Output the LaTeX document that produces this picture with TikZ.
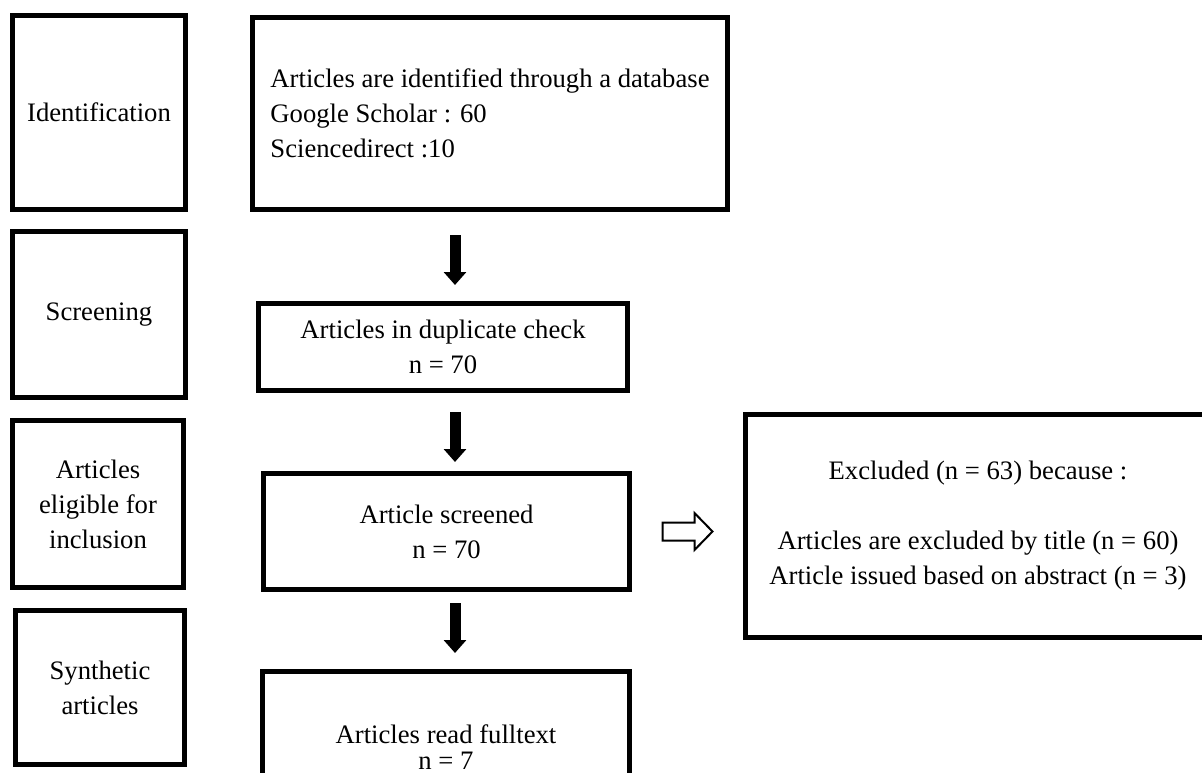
\documentclass[tikz,border=0pt]{standalone}
\usepackage{fontspec}
\setmainfont{Liberation Serif}
\usetikzlibrary{arrows.meta, calc}
\newcommand{\px}{0.45pt}

\begin{document}
\begin{tikzpicture}[x = \px, y = -\px, every node/.style = {rectangle, draw = black, line width = 2.25pt, outer sep = 0pt, inner sep = 0pt, align = center, font = \fontsize{12}{15.75}\selectfont}, box/.style 2 args = {minimum width = #1*\px, minimum height = #2*\px}]
	\useasboundingbox (0, 0) rectangle (1202, 773);
	\clip (0, 0) rectangle (1202, 773);

	\node (ident) at (99, 112.5) [box = {173}{194}] {Identification};
	\node (screen) at (99, 314.5) [box = {173}{166}] {Screening};
	\node (elig) at (98, 504) [box = {171}{167}] {Articles\\ eligible for\\ inclusion};
	\node (synth) at (100, 687.5) [box = {169}{154}] {Synthetic\\ articles};

	\node (db) at (490, 113.5) [box = {475}{192}, align = left] {Articles are identified through a database\\ Google Scholar : 60\\ Sciencedirect :10};
	\node (dup) at (443, 347) [box = {369}{87}] {Articles in duplicate check\\ n = 70};
	\node (scr) at (446.5, 531.5) [box = {366}{116}] {Article screened\\ n = 70};
	\node (full) at (446, 747) [box = {367}{151}] {Articles read fulltext\\[-4pt] n = 7};
	\node (excl) at (978, 526) [box = {465}{223}] {Excluded (n = 63) because :\\[15.75pt] Articles are excluded by title (n = 60)\\ Article issued based on abstract (n = 3)};

	\coordinate (flow) at (455, 0);
	\foreach \from/\to/\gapA/\gapB in {db/dup/25.5/18.5, dup/scr/21.5/11.5, scr/full/13.5/18.5}
		\draw [line width = 11*\px, -{Triangle[width = 9.9pt, length = 5.85pt]}, shorten < = \gapA*\px, shorten > = \gapB*\px] (\from.south -| flow) -- (\to.north -| flow);

	\coordinate (gap) at ($(scr.east)!0.5!(scr.east -| excl.west)$);
	\draw [line width = 0.9pt] ([shift = {(-25, -9)}] gap) -- ++(32, 0) -- ++(0, -9.5) -- ++(18, 18.5) -- ++(-18, 18.5) -- ++(0, -9.5) -- ++(-32, 0) -- cycle;
\end{tikzpicture}
\end{document}
